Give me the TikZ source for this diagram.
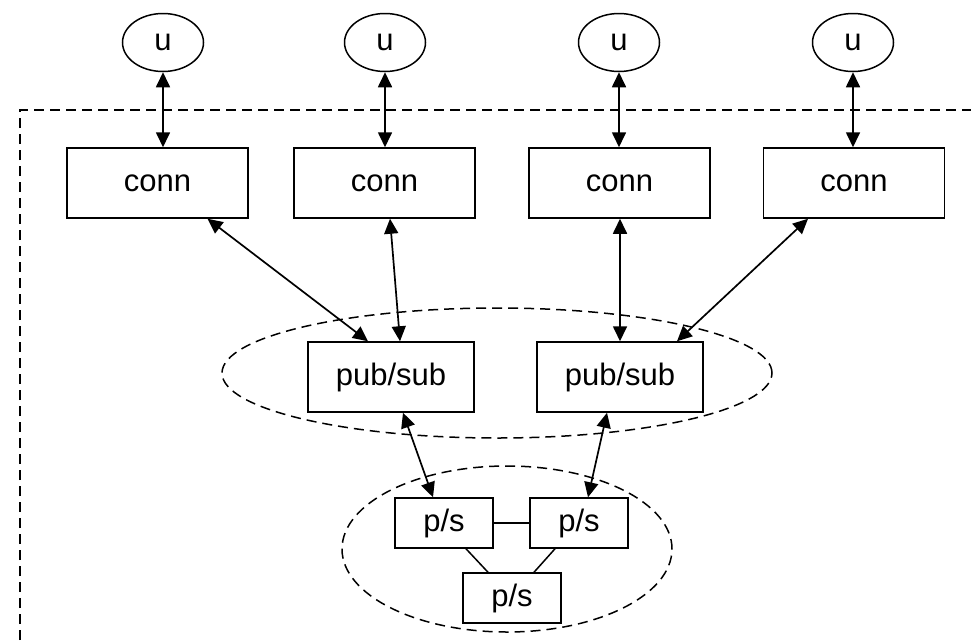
\documentclass[tikz,border=0pt]{standalone}
\usepackage{fontspec}
\setmainfont{Liberation Sans}
\usetikzlibrary{arrows.meta,shapes.geometric}
\begin{document}
\begin{tikzpicture}[x=1pt,y=-1pt,
  every node/.style={font=\fontsize{31}{36}\selectfont, inner sep=0pt},
  user/.style={draw, ellipse, line width=1.5pt, minimum width=81pt, minimum height=58pt},
  connbox/.style={draw, rectangle, line width=1.5pt, minimum width=181pt, minimum height=70pt},
  psbox/.style={draw, rectangle, line width=1.5pt, minimum width=166pt, minimum height=70pt},
  smallbox/.style={draw, rectangle, line width=1.5pt, minimum width=98pt, minimum height=50pt},
  cluster/.style={draw, ellipse, line width=1.5pt, dash pattern=on 10pt off 6pt},
  link/.style={line width=1.7pt, {Triangle[length=15pt,width=14pt]}-{Triangle[length=15pt,width=14pt]}},
  plain/.style={line width=1.5pt}]
\useasboundingbox (0,0) rectangle (971,640);

% system boundary
\draw[line width=1.8pt, dash pattern=on 10pt off 6pt] (20,640) -- (20,110) -- (971,110);

% cluster outlines
\node[cluster, minimum width=550pt, minimum height=130pt] (ring) at (497,373) {};
\node[cluster, minimum width=330pt, minimum height=166pt] (core) at (507,549) {};

% users
\node[user] (u1) at (163,42.5) {u};
\node[user] (u2) at (385,42.5) {u};
\node[user] (u3) at (619,42.5) {u};
\node[user] (u4) at (853,42.5) {u};

% connectors
\node[connbox] (c1) at (157.5,183) {conn};
\node[connbox] (c2) at (384.5,183) {conn};
\node[connbox] (c3) at (619.5,183) {conn};
\node[connbox] (c4) at (854,183) {conn};

% pub/sub brokers
\node[psbox] (p1) at (391,377) {pub/sub};
\node[psbox] (p2) at (620,377) {pub/sub};

% p/s core
\node[smallbox] (s1) at (444,523) {p/s};
\node[smallbox] (s2) at (579,523) {p/s};
\node[smallbox] (s3) at (512,598) {p/s};

% user <-> conn
\foreach \i in {1,...,4}
  \draw[link] (u\i.south) -- (u\i.south |- c\i.north);

% conn <-> pub/sub
\draw[link] ([xshift=50pt]c1.south) -- ([xshift=-23pt]p1.north);
\draw[link] ([xshift=5.5pt]c2.south) -- ([xshift=9pt]p1.north);
\draw[link] ([xshift=0.5pt]c3.south) -- (p2.north);
\draw[link] ([xshift=-46pt]c4.south) -- ([xshift=57pt]p2.north);

% pub/sub <-> p/s
\draw[link] ([xshift=12pt]p1.south) -- ([xshift=-11pt]s1.north);
\draw[link] ([xshift=-13pt]p2.south) -- ([xshift=9pt]s2.north);

% p/s mesh
\draw[plain] (s1.east) -- (s2.west);
\draw[plain] ([xshift=22pt]s1.south) -- ([xshift=-24pt]s3.north);
\draw[plain] ([xshift=-24pt]s2.south) -- ([xshift=22pt]s3.north);
\end{tikzpicture}
\end{document}
